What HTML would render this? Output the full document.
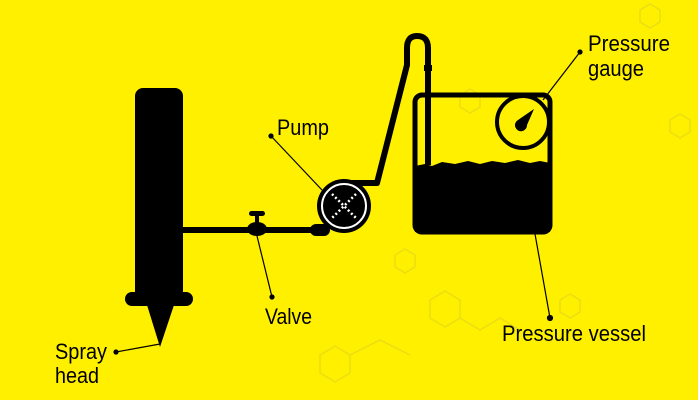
<!DOCTYPE html>
<html><head><style>html,body{margin:0;padding:0;background:#fff000;}svg{display:block}</style></head>
<body>
<svg width="698" height="400" viewBox="0 0 698 400" xmlns="http://www.w3.org/2000/svg" font-family="Liberation Sans, sans-serif">
<rect width="698" height="400" fill="#fff000"/>
<g fill="none" stroke="#e0d220" stroke-width="1.5" opacity="0.6">
<polygon points="430,300 445,291 460,300 460,318 445,327 430,318"/>
<polygon points="320,355 335,346 350,355 350,373 335,382 320,373"/>
<polygon points="460,95 470,89 480,95 480,107 470,113 460,107"/>
<polygon points="640,10 650,4 660,10 660,22 650,28 640,22"/>
<polygon points="395,255 405,249 415,255 415,267 405,273 395,267"/>
<polygon points="560,300 570,294 580,300 580,312 570,318 560,312"/>
<polygon points="670,120 680,114 690,120 690,132 680,138 670,132"/>
<polyline points="460,318 480,330 500,318 520,330"/>
<polyline points="350,355 380,340 410,355"/>
</g>
<rect x="135" y="88" width="48" height="215" rx="8" fill="#000"/>
<rect x="125" y="292" width="68" height="14" rx="7" fill="#000"/>
<polygon points="147,305 174,305 160,347" fill="#000"/>
<rect x="183" y="227" width="140" height="6" fill="#000"/>
<rect x="310" y="224" width="20" height="12" rx="6" fill="#000"/>
<ellipse cx="257" cy="229" rx="10" ry="7" fill="#000"/>
<rect x="255" y="213" width="4" height="12" fill="#000"/>
<rect x="249" y="211" width="16" height="5" rx="2.5" fill="#000"/>
<path d="M343,183 L377,183 L407,65 L407,48 Q407,36 417,36 Q428,36 428,48 L428,165" fill="none" stroke="#000" stroke-width="6" stroke-linejoin="round"/>
<rect x="424" y="65" width="8" height="6" fill="#000"/>
<circle cx="344" cy="206" r="27" fill="#000"/>
<circle cx="344" cy="206" r="22" fill="none" stroke="#fff" stroke-width="2"/>
<g stroke="#fff" stroke-width="2.5" stroke-dasharray="2 2.5"><line x1="332" y1="194" x2="356" y2="218"/><line x1="356" y1="194" x2="332" y2="218"/></g>
<path d="M415,166 L425,164 L432,166 L442,162 L455,164 L468,161 L480,164 L492,161 L505,163 L518,160 L530,163 L540,161 L550,163 L550,232 L415,232 Z" fill="#000"/>
<rect x="415" y="95" width="135" height="137" rx="7" fill="none" stroke="#000" stroke-width="5"/>
<circle cx="523" cy="122" r="26" fill="none" stroke="#000" stroke-width="4"/>
<path d="M534,109 L527,125 A6,6 0 1 1 518,120 Z" fill="#000"/>
<g stroke="#000" stroke-width="1.2" fill="#000">
<line x1="580" y1="52" x2="543" y2="100"/><circle cx="580" cy="52" r="2"/>
<line x1="271" y1="136" x2="322" y2="190"/><circle cx="271" cy="136" r="2"/>
<line x1="257" y1="236" x2="272" y2="297"/><circle cx="272" cy="297" r="2"/>
<line x1="116" y1="352" x2="160" y2="344"/><circle cx="116" cy="352" r="2"/>
<line x1="535" y1="234" x2="550" y2="318"/><circle cx="550" cy="318" r="2.5"/>
</g>
<g fill="#000" font-size="22">
<text x="588" y="51" textLength="82" lengthAdjust="spacingAndGlyphs">Pressure</text>
<text x="588" y="76" textLength="56" lengthAdjust="spacingAndGlyphs">gauge</text>
<text x="277" y="135" textLength="52" lengthAdjust="spacingAndGlyphs">Pump</text>
<text x="265" y="324" textLength="47" lengthAdjust="spacingAndGlyphs">Valve</text>
<text x="55" y="359" textLength="52" lengthAdjust="spacingAndGlyphs">Spray</text>
<text x="55" y="383" textLength="44" lengthAdjust="spacingAndGlyphs">head</text>
<text x="502" y="341" textLength="144" lengthAdjust="spacingAndGlyphs">Pressure vessel</text>
</g>
</svg>
</body></html>
